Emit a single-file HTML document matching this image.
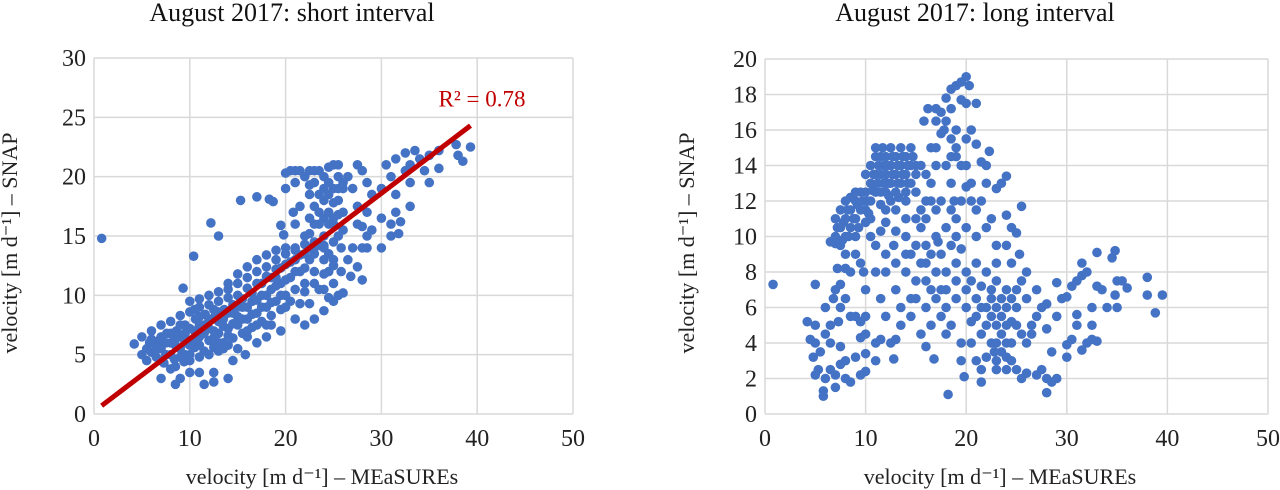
<!DOCTYPE html>
<html><head><meta charset="utf-8"><style>
body{margin:0;background:#fff;}
svg{display:block;font-family:"Liberation Serif",serif;}
</style></head><body>
<svg id="c" width="1280" height="490"></svg>
<script>
const leftXTicks=[0,10,20,30,40,50];
const leftYTicks=[0,5,10,15,20,25,30];
const rightXTicks=[0,10,20,30,40,50];
const rightYTicks=[0,2,4,6,8,10,12,14,16,18,20];
const trendSlope=0.613;
const trendIntercept=0.21;
const trendRange=[0.8,39.3];
const leftPoints=[[4.2,5.9],[5,5],[5,6.5],[5.5,4.5],[5.8,6],[6,5.2],[6,7],[6.5,4.8],[6.8,6.2],[7,5.5],[7,7.5],[7.3,4.3],[7.6,6.8],[8,5],[8,6],[8,7.8],[8.4,4.6],[8.6,7],[9,5.5],[9,6.5],[9,8.3],[9.4,4.4],[9.5,7.5],[10,5],[10,6.2],[10,7.2],[10,8.6],[10.5,5.6],[10.6,8],[11,6.5],[11,7.5],[11,9],[11.5,5.3],[11.6,8.4],[12,6.2],[12,7.2],[12,9.2],[12.5,5.6],[12.6,8.2],[13,6.8],[13,7.8],[13,9.5],[13.5,6],[13.6,8.8],[14,7.2],[14,9.8],[14.5,6.4],[14.5,8.5],[15,7.5],[15,10],[15.5,6.8],[15.5,9],[16,8],[16,10.6],[16.5,7.3],[16.5,9.5],[17,8.5],[17,11],[17.5,7.8],[17.5,10],[18,9],[18,11.6],[18.5,8.3],[18.5,10.5],[19,9.5],[19,12.2],[19.5,8.8],[19.5,11],[20,10],[20,12.6],[20.5,9.5],[20.5,11.5],[21,10.5],[21,13],[21.5,12],[22,13.5],[22,11],[22.5,14],[23,13.5],[23,12],[23.5,14.2],[24,13],[24.5,12],[25,11],[7.5,6],[8.5,5.8],[9.5,6],[10.5,7],[11.5,6.8],[12.5,7],[13.5,7.4],[14.5,7.6],[15.5,8],[16.5,8.4],[17.5,9],[18.5,9.4],[19.5,10],[6.5,6],[9,7.5],[11,8.2],[13,8.6],[15,9],[17,9.6],[19,10.8],[20.5,12.8],[18,12.4],[17,12],[16,11.5],[15,11],[14,10.5],[7,3],[8.5,2.5],[9,3],[8,3.8],[10,3.5],[11.5,2.5],[11,3.5],[12.5,2.7],[12.5,3.5],[14,3],[13.5,5.5],[14.5,4.5],[15,5.5],[15.8,5],[16,6.5],[17,6],[18,6.5],[18.5,7.5],[19.5,7],[21,8],[22,7.5],[22.5,9.3],[23,8],[24,8.7],[24.5,9.8],[25,9.5],[22,10.3],[23.5,10.5],[25.5,10],[26,10.2],[24,11.8],[25,12.5],[25.8,12],[26.5,13],[0.8,14.8],[9.3,10.6],[10.4,13.3],[12.2,16.1],[13,15],[15.3,18],[17,18.3],[19.5,15.9],[19.8,15.1],[18.7,17.9],[18.3,18.1],[22,15],[22.5,16.5],[23,17.5],[23.5,16],[24,15],[24,18],[24.5,19.5],[25,16.5],[25,14.5],[25.5,18],[25.5,20],[26,17],[25,21],[24.5,17],[23.5,18.5],[22.5,18.5],[21,19.5],[22,20],[20,20.3],[20.5,20.5],[21.5,20.5],[22.5,20.5],[23.5,20.5],[24.5,20.8],[25.5,21],[26,19],[21.5,17.5],[21,16],[20.8,17],[26,15.5],[25.8,14],[24,14.2],[26.5,20],[27.5,21],[28,20.5],[28.5,19.5],[27,19],[27.5,17.5],[28.5,17],[29,18.5],[30,19],[31,20],[31.5,21.5],[30.5,21],[32.5,22],[33,21],[33.5,22.2],[34,21.5],[35,21.8],[36,22.2],[37.8,22.7],[38,21.8],[39.3,22.5],[38.5,21.3],[36,20.7],[35,19.5],[34.5,20.5],[33,19.5],[32.5,20.5],[31.5,18.5],[31.5,17],[32,16.2],[33,17.5],[31,16],[30,16.5],[30,14],[28.5,14],[28,14],[27,14],[28,15.8],[28.5,15],[27.5,16],[29,15.5],[31,15],[31.8,15.2],[26.8,11.6],[28,11.3],[27.5,12.4],[26,19.5],[25,19],[23,19.5],[24,20],[22.5,19.3],[25,17.8],[23,16],[24.5,16],[22.5,15.2],[23,14.5],[21,14],[20,13.5],[19,13],[24,10.5],[23,11],[21.5,9.3],
[5.5,5.5],[6.5,5.5],[7,6.5],[7.5,5],[8,6.8],[8.5,6.3],[9,4.8],[9.5,6.8],[10,5.8],[10.5,6.3],[10.5,8.8],[11,5.8],[11.5,7.5],[12,8],[12.5,6.4],[12.5,8.8],[13,6],[13.5,8],[14,6.6],[14,8.5],[14.5,9.2],[15,8.2],[15.5,9.7],[16,9],[16,7],[16.5,10.2],[17,7.5],[17.5,11],[18,10],[18,7.5],[18.5,11.5],[19,11.5],[19.5,12.3],[20,11.3],[20,9],[21,12],[21.5,13.4],[22,12.3],[22.5,13],[23,14],[24,14],[24.5,13.5],[25,13],[25.5,15],[25,16],[24.5,18.5],[23.5,17],[24,16.5],[25.5,16.8],[25.5,19],[24,19],[23,20.5],[21,20.5],[20,19],[6,6.3],[7,4.5],[8.5,4],[9.5,5],[10,4.5],[11,4.8],[12,5],[13,5.3],[14,5.8],[10,9.5],[11,9.7],[12,10],[13,10.3],[14,11],[15,11.8],[16,12.4],[17,13],[18,13.4],[19,13.8],[20,14],[21,13.8],[22,14.3]];
const rightPoints=[[7,10],[7,11],[7.5,9.5],[7.5,10.5],[7.5,11.5],[8,10],[8,11],[8,12],[8.5,10.5],[8.5,11.5],[9,11],[9,12],[9,10],[9.5,11.5],[9.5,12.5],[10,11.5],[10,12.5],[10,13.5],[10.5,12],[10.5,13],[10.5,14],[11,12.5],[11,13.5],[11,14.5],[11,15],[11.5,12.5],[11.5,13.5],[11.5,14.5],[12,12.5],[12,13.5],[12,14.5],[12.5,13],[12.5,14],[12.5,15],[13,12.5],[13,13.5],[13,14.5],[13.5,13],[13.5,14],[13.5,15],[14,12.5],[14,13.5],[14,14.5],[14.5,13],[14.5,14],[14.5,15],[15,12.5],[15,14],[11.5,11.8],[12.5,12],[10,10.8],[7,9.6],[8,9],[6.5,9.7],[7.2,8.2],[8.5,8],[9.5,8.5],[9.8,8],[7,7],[6.8,6.5],[7.5,6],[8,6.5],[8.5,5.5],[9,5.5],[9.5,5.2],[10,5.5],[10,7],[7.3,5.2],[6.5,5],[6,6],[5,7.3],[5,5],[4.2,5.2],[4.5,4.2],[5,4],[5.5,3.5],[5,2.2],[5.3,2.5],[6,2],[5.8,1],[5.8,1.3],[6.5,2.5],[7,1.5],[7,2.2],[7.5,2.8],[8,2],[8.5,1.8],[8,3],[7.5,3.8],[6.5,4],[6,4.5],[4.8,3.2],[9.5,2.2],[10,2.4],[9,3.2],[10,4.5],[11,3],[11,4],[11.5,4.2],[12.5,4],[13,4.2],[12.8,3.1],[13.5,5],[12,5.5],[11.5,6.5],[11,8],[12,9],[12.8,9.5],[11.5,10.3],[12,10.8],[13,10.3],[14,11],[13,11.5],[14.5,9],[14,8],[13,7],[13.5,6],[14.5,6.5],[15,7.5],[15,9.5],[15.5,10.5],[15.5,11.5],[16,12],[16,13.5],[16.5,15],[16.5,13],[15.5,14],[15.8,16.5],[16.2,17.2],[17,16.5],[17,17.2],[17.5,17],[17.8,16],[18,17.8],[18.5,18.3],[19,18.5],[19.5,18.7],[20,19],[20.3,18.5],[20,17.5],[21,17.5],[19.5,17.7],[18.5,17.2],[17.5,15.8],[18.5,15.5],[19,15],[20,15.5],[21,15.2],[19.5,14],[18.5,13],[18,14],[17,14],[17.5,12],[18.5,11.5],[19.5,12],[20,12.8],[20.5,12],[21,11.5],[21.5,14.2],[22,14],[22.3,14.8],[23,12.7],[23.5,13],[24,13.4],[22,13],[21.5,12],[16,11],[17,10],[16.5,9],[17.5,9],[18,10.5],[19,10],[20,10.5],[21,10],[22,10.5],[22.5,11],[23,9.5],[24,11.2],[24.5,10.5],[25.5,11.7],[25,10.2],[24,9.5],[23,8.5],[24.5,8.5],[25.3,9],[25.5,7.5],[26,8],[25,7],[24,7],[23,7.5],[22,8],[21,8.5],[20,8],[19,8.5],[18,8],[17,8],[16,7.5],[15,6.5],[16,6],[17,6.5],[18,6],[19,6.5],[20,6],[21,6.5],[22,6],[23,6],[24,6],[25,6],[26,6.5],[27,7],[27,5.5],[26.5,5],[25.5,4.5],[24.5,4],[23.5,4.5],[22.5,4],[21.5,4.5],[20.5,4],[19.5,4],[18.5,5],[17.5,5.5],[16.5,5],[16,3.8],[16.8,3.1],[15.5,4.5],[14.5,5.5],[18,4.5],[19.5,3],[19.8,2.1],[21,3],[21.5,1.8],[21.5,2.5],[22,3.2],[23,2.5],[23,3],[24,3.2],[24,2.5],[25,2.5],[25.5,2],[26,2.3],[26.5,4.5],[27,2.2],[27.5,2.5],[28,2],[28,1.2],[28.5,1.8],[29,2],[28.5,3.5],[28,4.8],[28,6.2],[29,5.5],[29,7.4],[29.5,6.5],[30,3.2],[30,3.9],[30,6.6],[30.5,4.2],[30.5,7.2],[31,5],[31,5.6],[31,7.5],[31.5,8.5],[31.5,3.6],[31.5,7.8],[32,4],[32,8],[32.5,5],[32.5,6],[32.5,4.2],[33,4.1],[33,9.1],[33,7.2],[33.5,7],[34,6],[34.5,8.8],[34.8,9.2],[34.8,6.7],[35,7.5],[35,6],[35.5,7.5],[36,7.1],[38,7.7],[38,6.7],[38.8,5.7],[39.5,6.7],[0.8,7.3],[18.2,1.1],[20.5,5.2],[27.5,6],[26,4],[24.5,5.2],[23.5,5.5],[22.5,7],[21.5,7.2],[20.5,7.5],[19.5,9.3],[18.5,9.5],[16.5,12],[15,11],[14,10],[12,8],[11,9.5],[10.5,10],[9,9],[8,8.2],[7.5,7.3],[9.5,4.3],[10,3.4],[23,5],[24,5],[22,5],[21,5.5],[23.5,3.5],[24.5,3],[22.5,6.5],[19,7.5],[17.5,7],[16.5,7],[15.5,8.5],[14,9],[13,8.5],[12,11.5],[9,12.5],[8.5,12.2],[10.5,11],[15,13.5],[14,12],[17,15],[18,16.5],[19,16],[20.5,16],[18.5,14.5],[20,14],[19,11],[17,11.5],[16,9.5],
[7.2,10.5],[7.8,10.8],[8.2,11.5],[8.8,11],[9.2,11.8],[9.7,12],[10.2,12],[10.7,12.6],[10.8,13.5],[11.2,13],[11.3,14],[11.8,13],[11.8,14],[11.7,15],[12.2,13],[12.2,14],[12.7,13.5],[12.7,14.5],[13.2,13],[13.2,14],[13.7,13.5],[13.7,14.5],[14.2,13],[14.2,14],[14.7,14.5],[12.3,12.3],[13.3,12.2],[10.3,11.3],[9.3,10.5],[8.3,10],[7.7,9.8],[22.5,5.5],[23.5,6.5],[24.5,6.5],[23,4],[24,4],[22.8,3.5],[25,5],[21.5,6],[20,7],[18,7],[16,8.5],[17.2,9.7],[18.8,12],[20.5,13],[19,14.5]];
const NS="http://www.w3.org/2000/svg";
const svg=document.getElementById('c');
function mk(tag,attrs,parent){const e=document.createElementNS(NS,tag);for(const k in attrs)e.setAttribute(k,attrs[k]);(parent||svg).appendChild(e);return e;}
function chart(cfg){
  const g=mk('g',{});
  
  
  const sx=v=>cfg.x0+(v-cfg.xmin)/(cfg.xmax-cfg.xmin)*(cfg.x1-cfg.x0);
  const sy=v=>cfg.y0-(v-cfg.ymin)/(cfg.ymax-cfg.ymin)*(cfg.y0-cfg.y1);
  cfg.xt.forEach(t=>{const l=mk('line',{x1:sx(t),x2:sx(t),y1:cfg.y1,y2:cfg.y0,stroke:'#d9d9d9','stroke-width':1.5},g);
    
    
    const tx=mk('text',{x:sx(t),y:cfg.y0+32,'text-anchor':'middle','font-size':24,fill:'#222'},g);tx.textContent=t;
    
    });
  cfg.yt.forEach(t=>{const l=mk('line',{x1:cfg.x0,x2:cfg.x1,y1:sy(t),y2:sy(t),stroke:'#d9d9d9','stroke-width':1.5},g);
    
    
    const tx=mk('text',{x:cfg.x0-8,y:sy(t)+8,'text-anchor':'end','font-size':24,fill:'#222'},g);tx.textContent=t;
    
    });
  cfg.pts.forEach(p=>{const c=mk('circle',{cx:sx(p[0]),cy:sy(p[1]),r:4.8,fill:'#4472c4'},g);
    
    });
  if(cfg.trend){const l=mk('line',{x1:sx(trendRange[0]),y1:sy(trendSlope*trendRange[0]+trendIntercept),x2:sx(trendRange[1]),y2:sy(trendSlope*trendRange[1]+trendIntercept),stroke:'#c00000','stroke-width':5},g);
    
    
    const r=mk('text',{x:sx(40.5),y:sy(25.9),'text-anchor':'middle','font-size':23,fill:'#c00000'},g);r.textContent='R² = 0.78';
    
    }
  const t=mk('text',{x:cfg.tx,y:21,'text-anchor':'middle','font-size':26,fill:'#111'},g);t.textContent=cfg.title;
  
  
  const xt=mk('text',{x:cfg.xtx,y:484,'text-anchor':'middle','font-size':22,fill:'#222'},g);xt.textContent='velocity [m d⁻¹] – MEaSUREs';
  
  
  const yt=mk('text',{x:0,y:0,'text-anchor':'middle','font-size':22,fill:'#222',transform:`translate(${cfg.ytx},243) rotate(-90)`},g);yt.textContent='velocity [m d⁻¹] – SNAP';
  
  
}
chart({name:'short-interval-chart',x0:94,x1:573,y0:414,y1:58,xmin:0,xmax:50,ymin:0,ymax:30,xt:leftXTicks,yt:leftYTicks,pts:leftPoints,trend:true,title:'August 2017: short interval',tx:292,xtx:322,ytx:17});
chart({name:'long-interval-chart',x0:765,x1:1268,y0:414,y1:59,xmin:0,xmax:50,ymin:0,ymax:20,xt:rightXTicks,yt:rightYTicks,pts:rightPoints,trend:false,title:'August 2017: long interval',tx:975,xtx:1000,ytx:694});
</script>
</body></html>
